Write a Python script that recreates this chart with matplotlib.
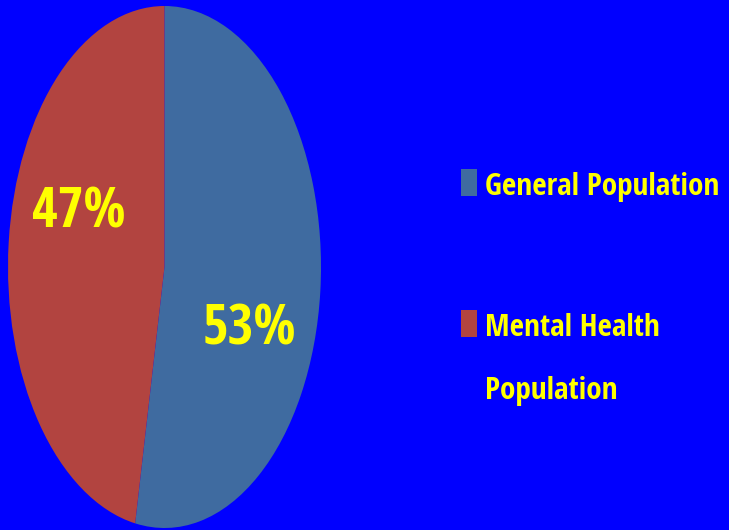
import matplotlib
matplotlib.use('Agg')
import matplotlib.pyplot as plt
from matplotlib.patches import Rectangle

# slice data
labels = ['General Population', 'Mental Health\nPopulation']
values = [53, 47]
colors = ['#3F6BA0', '#B24440']

BG = '#0000FF'
TXT = '#FFFF00'
FONT = ['Open Sans Condensed', 'DejaVu Sans']

W, H = 729, 530
fig = plt.figure(figsize=(W / 100, H / 100), dpi=100)
fig.patch.set_facecolor(BG)

# pie axes stretched to an ellipse
ax = fig.add_axes([8 / W, 2 / H, 313 / W, 522 / H])
ax.set_facecolor(BG)
wedges, _ = ax.pie(values, colors=colors, startangle=90, counterclock=False,
                   wedgeprops=dict(linewidth=0))
ax.set_aspect('auto')
ax.set_xlim(-1, 1)
ax.set_ylim(-1, 1)
ax.axis('off')

# percentage labels (best-fit spots like the original)
label_pos = [(0.545, -0.24), (-0.545, 0.205)]
for v, (x, y) in zip(values, label_pos):
    ax.text(x, y, f'{v}%', color=TXT, fontsize=40, fontweight='bold',
            family=FONT, ha='center', va='center')

# legend drawn by hand so the marker sits on the first line
legend_y = [182.5, 323.5]
line_gap = 62
for lab, col, y in zip(labels, colors, legend_y):
    fig.patches.append(Rectangle((461 / W, 1 - (y + 13.5) / H), 16 / W, 27 / H,
                                 transform=fig.transFigure, facecolor=col,
                                 edgecolor='none'))
    for i, line in enumerate(lab.split('\n')):
        fig.text(485 / W, 1 - (y + 13 + i * line_gap) / H, line, color=TXT,
                 fontsize=22.5, fontweight='bold', family=FONT,
                 ha='left', va='baseline')

fig.savefig('out.png', dpi=100, facecolor=BG)
